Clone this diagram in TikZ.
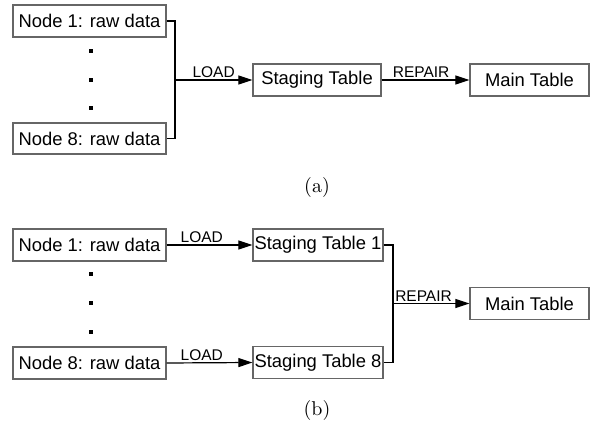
\documentclass[tikz,border=0pt]{standalone}
\usepackage{fontspec}
\usepackage{graphicx}
\setsansfont{Liberation Sans}
\usetikzlibrary{arrows.meta}
\definecolor{boxgray}{HTML}{666666}
\tikzset{
  box/.style={draw=boxgray, line width=1.3pt, fill=white, inner sep=0pt, minimum height=32pt, font=\sffamily\fontsize{18.4}{20}\selectfont},
  conn/.style={line width=1.2pt, black},
  arr/.style={conn, -{Triangle[length=14pt,width=9pt]}},
  lbl/.style={font=\sffamily\fontsize{15.5}{17}\selectfont, inner sep=1.5pt, anchor=south},
  dotmark/.style={fill=black, inner sep=0pt, minimum size=3.2pt, draw=none},
  captext/.style={inner sep=0pt}
}
\begin{document}
\begin{tikzpicture}[x=1pt,y=-1pt]
\useasboundingbox (0,0) rectangle (592,430);
% (a)
\node[box, minimum width=153pt] (n1a) at (89.5,21) {Node 1: raw data};
\node[box, minimum width=153pt, minimum height=31pt] (n8a) at (89.5,138.5) {Node 8: raw data};
\node[dotmark] (d1a) at (91,51) {};
\node[dotmark] (d2a) at (91,80) {};
\node[dotmark] (d3a) at (91,108) {};
\node[box, minimum width=128pt] (sta) at (317,80) {Staging Table};
\node[box, minimum width=119pt] (mta) at (529.5,80) {Main Table};
\coordinate (ja) at (175,80);
\draw[conn] (n1a.east) -| (ja) |- (n8a.east);
\draw[arr] (ja) -- node[lbl, pos=0.5] (la) {LOAD} (sta.west);
\draw[arr] (sta.east) -- node[lbl, pos=0.45] (ra) {REPAIR} (mta.west);
\node[captext] (capa) at (317,188) {\scalebox{2}{(a)}};
% (b)
\node[box, minimum width=153pt] (n1b) at (89.5,245) {Node 1: raw data};
\node[box, minimum width=153pt] (n8b) at (89.5,363) {Node 8: raw data};
\node[dotmark] (d1b) at (91,274) {};
\node[dotmark] (d2b) at (91,303) {};
\node[dotmark] (d3b) at (91,332) {};
\node[box, minimum width=130pt] (s1b) at (318,245) {Staging Table 1};
\node[box, minimum width=130pt] (s8b) at (318,362.5) {Staging Table 8};
\node[box, minimum width=119pt] (mtb) at (529.5,303.5) {Main Table};
\draw[arr] (n1b.east) -- node[lbl, pos=0.41] (l1b) {LOAD} (s1b.west);
\draw[arr] (n8b.east) -- node[lbl, pos=0.41] (l8b) {LOAD} (s8b.west);
\coordinate (jb) at (393,303.5);
\draw[conn] (s1b.east) -| (jb) |- (s8b.east);
\draw[arr] (jb) -- node[lbl, pos=0.4] (rb) {REPAIR} (mtb.west);
\node[captext] (capb) at (317,410) {\scalebox{2}{(b)}};
\end{tikzpicture}
\end{document}
